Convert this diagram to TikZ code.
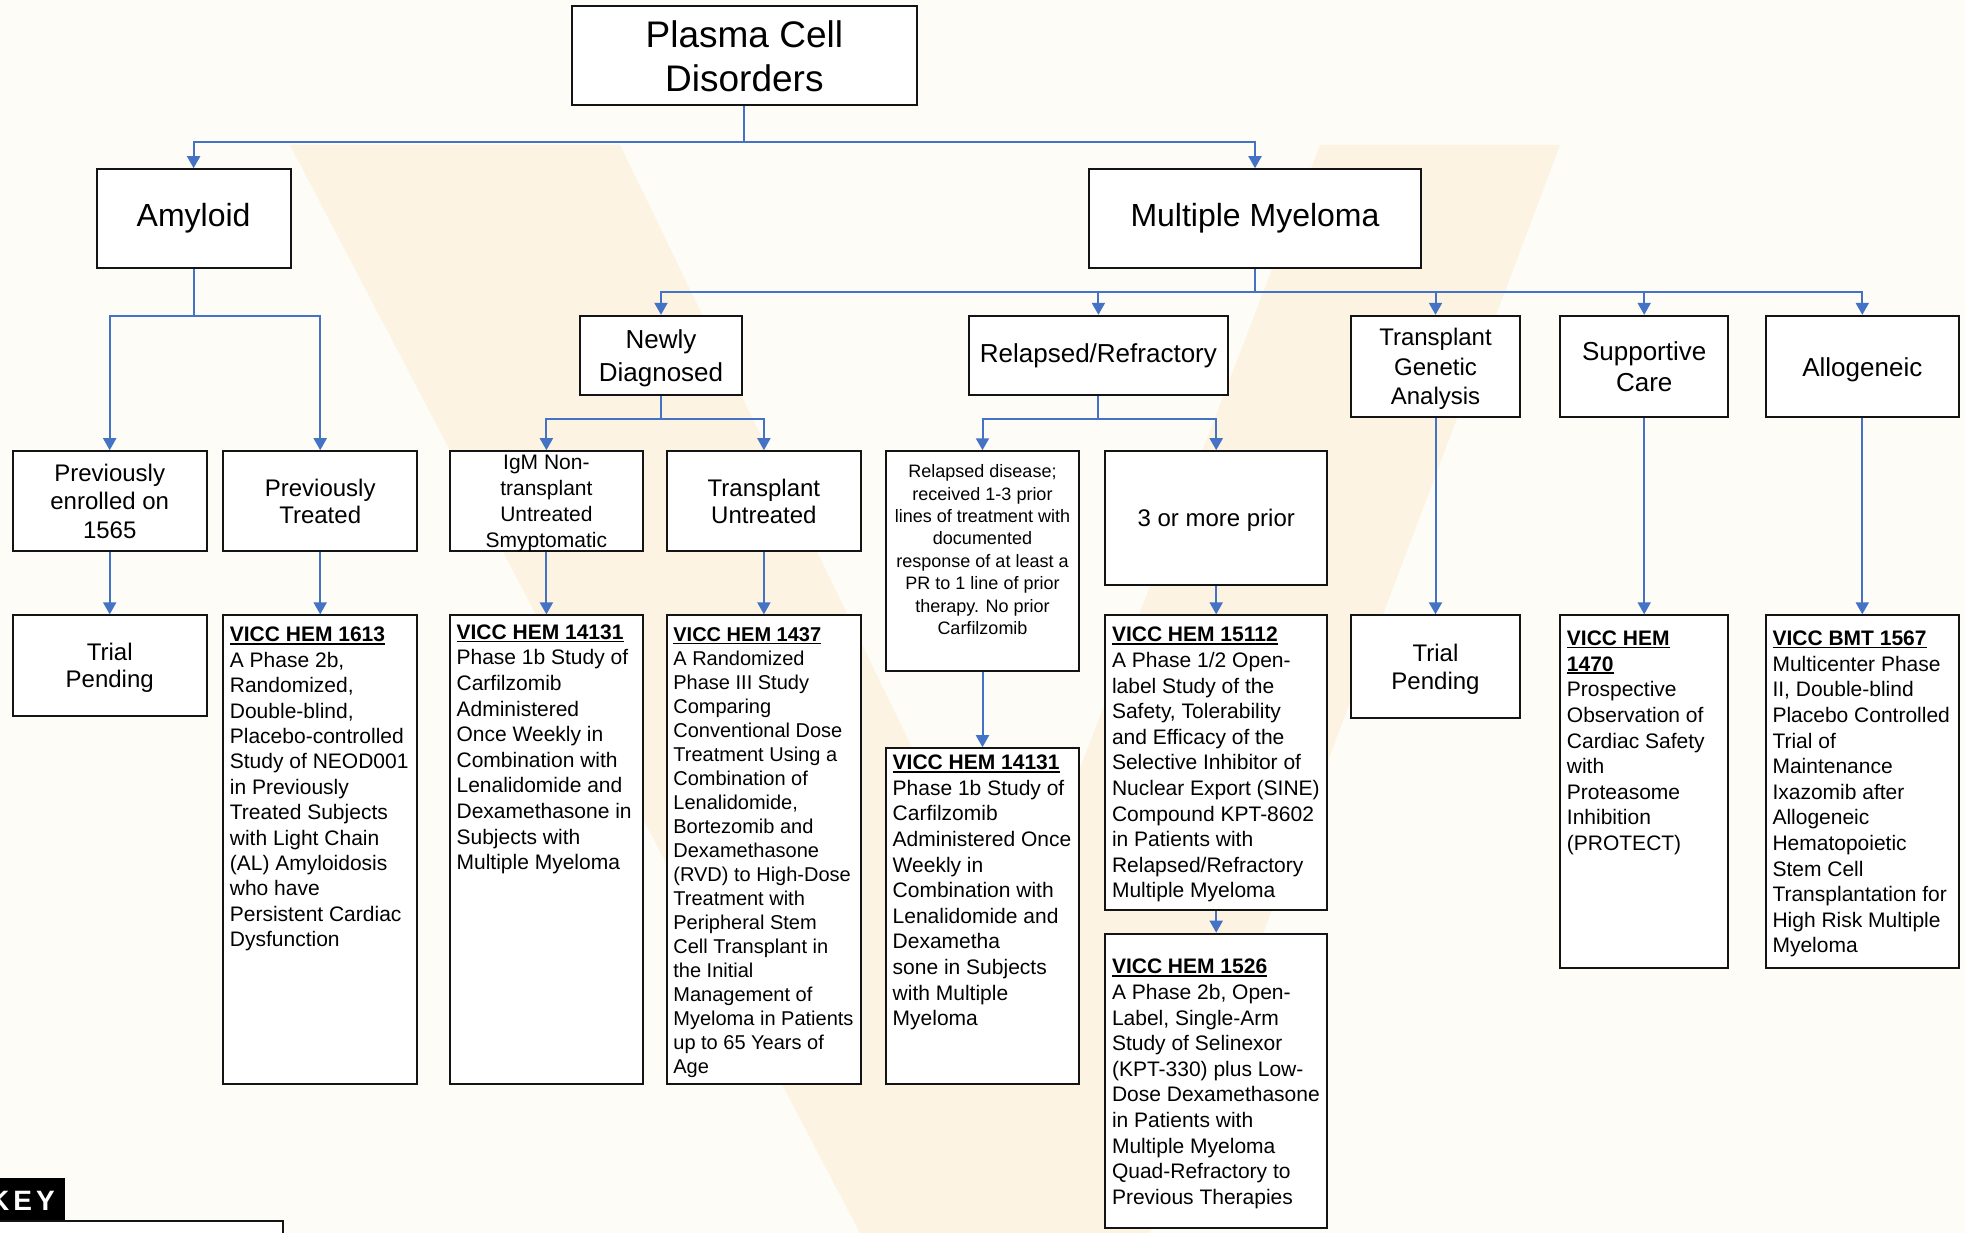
\documentclass[tikz,border=0pt]{standalone}
\usepackage{fontspec}
\setmainfont{Liberation Sans}
\usetikzlibrary{arrows.meta}
\definecolor{connc}{HTML}{4472C4}
\definecolor{bgc}{RGB}{253,252,246}
\definecolor{wmc}{RGB}{252,243,226}
\definecolor{bline}{RGB}{20,20,20}
\newsavebox{\hdbox}
\newcommand{\hd}[1]{\sbox{\hdbox}{\bfseries #1}\rlap{\rule[-2.8pt]{\wd\hdbox}{1.6pt}}\usebox{\hdbox}}
\newcommand{\fs}[2]{\fontsize{#1}{#2}\selectfont}
\tikzset{
 box/.style={draw=bline, line width=2pt, fill=white, inner sep=0pt, align=center, text=black},
 tdz/.style={text depth=0pt},
 cn/.style={draw=connc, line width=2pt, -{Triangle[width=13pt,length=12pt]}},
 txt/.style={inner sep=0pt, align=left, anchor=north west, text=black, font=\fs{21}{25.6}},
}
\begin{document}
\begin{tikzpicture}[x=1pt,y=-1pt]
\fill[bgc] (0,0) rectangle (1965,1233);
\useasboundingbox (0,0) rectangle (1965,1233);
\clip (0,0) rectangle (1965,1233);
% watermark
\fill[wmc] (290,145) -- (620,145) -- (1010,950) -- (1320,145) -- (1560,145) -- (1150,1233) -- (860,1233) -- cycle;

% level 0/1
\node[box, minimum width=345.8pt, minimum height=99pt, font=\fs{37}{44}] (pcd) at (744.4,55.8) {Plasma Cell\\Disorders};
\node[box, minimum width=194.2pt, minimum height=99pt, font=\fs{32}{38}] (amy) at (193.6,218.7) {Amyloid};
\node[box, minimum width=332pt, minimum height=99pt, font=\fs{32}{38}] (mm) at (1255,218.7) {Multiple Myeloma};

% level 2 (myeloma)
\node[box, tdz, minimum width=161.7pt, minimum height=79pt, font=\fs{26}{32.6}] (nd) at (661,355.3) {Newly\\Diagnosed};
\node[box, minimum width=259.4pt, minimum height=79pt, font=\fs{26}{31}] (rr) at (1098.4,355.3) {Relapsed/Refractory};
\node[box, tdz, minimum width=169pt, minimum height=101.5pt, font=\fs{24}{29.5}] (tga) at (1435.5,366.6) {Transplant\\Genetic\\Analysis};
\node[box, minimum width=168pt, minimum height=101.5pt, font=\fs{26}{31}] (sc) at (1644.2,366.6) {Supportive\\Care};
\node[box, tdz, minimum width=193pt, minimum height=101.5pt, font=\fs{26}{31}] (allo) at (1862.3,366.6) {Allogeneic};

% level 3
\node[box, minimum width=194.3pt, minimum height=100.2pt, font=\fs{24}{28.8}] (pe) at (109.7,501.3) {Previously\\enrolled on\\1565};
\node[box, minimum width=194.3pt, minimum height=100.2pt, font=\fs{24}{27.6}] (pt) at (320.2,501.3) {Previously\\Treated};
\node[box, tdz, minimum width=193pt, minimum height=100.2pt, font=\fs{21}{26}] (igm) at (546.4,501.3) {IgM Non-\\transplant\\Untreated\\Smyptomatic};
\node[box, minimum width=194.3pt, minimum height=100.2pt, font=\fs{24}{27.6}] (tu) at (763.9,501.3) {Transplant\\Untreated};
\node[box, minimum width=193pt, minimum height=219.3pt] (rd) at (982.5,560.9) {};
\node[inner sep=0pt, align=center, font=\fs{18}{22.4}] (rdt) at (982.5,549.6) {Relapsed disease;\\received 1-3 prior\\lines of treatment with\\documented\\response of at least a\\PR to 1 line of prior\\therapy. No prior\\Carfilzomib};
\node[box, tdz, minimum width=221.8pt, minimum height=134pt, font=\fs{24}{29}] (tm) at (1216.2,518.2) {3 or more prior};

% level 4
\node[box, tdz, minimum width=194.3pt, minimum height=100.3pt, font=\fs{24}{27.6}] (tp1) at (109.7,665.5) {Trial\\Pending};
\node[box, minimum width=194pt, minimum height=468.7pt] (v1613) at (320.2,849.7) {};
\node[box, minimum width=193pt, minimum height=468.7pt] (v14131a) at (546.4,849.7) {};
\node[box, minimum width=194.3pt, minimum height=468.7pt] (v1437) at (763.9,849.7) {};
\node[box, minimum width=193pt, minimum height=335.8pt] (v14131b) at (982.5,916.1) {};
\node[box, minimum width=221.8pt, minimum height=294.5pt] (v15112) at (1216.2,762.6) {};
\node[box, minimum width=221.8pt, minimum height=294.5pt] (v1526) at (1216.2,1080.9) {};
\node[box, tdz, minimum width=169pt, minimum height=102.8pt, font=\fs{24}{27.6}] (tp2) at (1435.5,666.7) {Trial\\Pending};
\node[box, minimum width=168pt, minimum height=352.2pt] (v1470) at (1644.2,791.4) {};
\node[box, minimum width=193pt, minimum height=352.2pt] (v1567) at (1862.3,791.4) {};

% study texts
\node[txt, font=\fs{21}{25.4}] (t1613) at (229.7,626.1) {\rule{0pt}{15.5pt}\hd{VICC HEM 1613}\\A Phase 2b,\\Randomized,\\Double-blind,\\Placebo-controlled\\Study of NEOD001\\in Previously\\Treated Subjects\\with Light Chain\\(AL) Amyloidosis\\who have\\Persistent Cardiac\\Dysfunction};
\node[txt] (t14131a) at (456.4,623.6) {\rule{0pt}{15.5pt}\hd{VICC HEM 14131}\\Phase 1b Study of\\Carfilzomib\\Administered\\Once Weekly in\\Combination with\\Lenalidomide and\\Dexamethasone in\\Subjects with\\Multiple Myeloma};
\node[txt, font=\fs{20}{24}] (t1437) at (673.2,626.5) {\rule{0pt}{14.8pt}\hd{VICC HEM 1437}\\A Randomized\\Phase III Study\\Comparing\\Conventional Dose\\Treatment Using a\\Combination of\\Lenalidomide,\\Bortezomib and\\Dexamethasone\\(RVD) to High-Dose\\Treatment with\\Peripheral Stem\\Cell Transplant in\\the Initial\\Management of\\Myeloma in Patients\\up to 65 Years of\\Age};
\node[txt] (t14131b) at (892.5,754) {\rule{0pt}{15.5pt}\hd{VICC HEM 14131}\\Phase 1b Study of\\Carfilzomib\\Administered Once\\Weekly in\\Combination with\\Lenalidomide and\\Dexametha\\sone in Subjects\\with Multiple\\Myeloma};
\node[txt] (t15112) at (1111.8,626.1) {\rule{0pt}{15.5pt}\hd{VICC HEM 15112}\\A Phase 1/2 Open-\\label Study of the\\Safety, Tolerability\\and Efficacy of the\\Selective Inhibitor of\\Nuclear Export (SINE)\\Compound KPT-8602\\in Patients with\\Relapsed/Refractory\\Multiple Myeloma};
\node[txt] (t1526) at (1111.8,958.2) {\rule{0pt}{15.5pt}\hd{VICC HEM 1526}\\A Phase 2b, Open-\\Label, Single-Arm\\Study of Selinexor\\(KPT-330) plus Low-\\Dose Dexamethasone\\in Patients with\\Multiple Myeloma\\Quad-Refractory to\\Previous Therapies};
\node[txt] (t1470) at (1566.7,629.9) {\rule{0pt}{15.5pt}\hd{VICC HEM}\\\hd{1470}\\Prospective\\Observation of\\Cardiac Safety\\with\\Proteasome\\Inhibition\\(PROTECT)};
\node[txt] (t1567) at (1772.3,629.9) {\rule{0pt}{15.5pt}\hd{VICC BMT 1567}\\Multicenter Phase\\II, Double-blind\\Placebo Controlled\\Trial of\\Maintenance\\Ixazomib after\\Allogeneic\\Hematopoietic\\Stem Cell\\Transplantation for\\High Risk Multiple\\Myeloma};

% connectors
\coordinate (b0) at (744.4,141.6);
\draw[cn] (pcd.south) -- (b0) -| (amy.north);
\draw[cn] (b0) -| (mm.north);
\coordinate (b1) at (193.6,315.8);
\draw[cn] (amy.south) -- (b1) -| (pe.north);
\draw[cn] (b1) -| (pt.north);
\coordinate (b2) at (1255,292);
\draw[cn] (mm.south) -- (b2) -| (nd.north);
\draw[cn] (b2) -| (rr.north);
\draw[cn] (b2) -| (tga.north);
\draw[cn] (b2) -| (sc.north);
\draw[cn] (b2) -| (allo.north);
\coordinate (b3) at (661,418.6);
\draw[cn] (nd.south) -- (b3) -| (igm.north);
\draw[cn] (b3) -| (tu.north);
\coordinate (b4) at (1098.4,418.6);
\draw[cn] (rr.south) -- (b4) -| (rd.north);
\draw[cn] (b4) -| (tm.north);
\draw[cn] (pe.south) -- (tp1.north);
\draw[cn] (pt.south) -- (v1613.north);
\draw[cn] (igm.south) -- (v14131a.north);
\draw[cn] (tu.south) -- (v1437.north);
\draw[cn] (rd.south) -- (v14131b.north);
\draw[cn] (tm.south) -- (v15112.north);
\draw[cn] (v15112.south) -- (v1526.north);
\draw[cn] (tga.south) -- (tp2.north);
\draw[cn] (sc.south) -- (v1470.north);
\draw[cn] (allo.south) -- (v1567.north);

% key
\fill[black] (-5,1178) rectangle (65,1221);
\node[anchor=base west, inner sep=0pt, text=white, font=\bfseries\fs{28}{30}] (key) at (-11,1210) {K\kern4pt E\kern4pt Y};
\draw[bline, line width=2pt, fill=white] (-5,1221) rectangle (283,1260);
\end{tikzpicture}
\end{document}
